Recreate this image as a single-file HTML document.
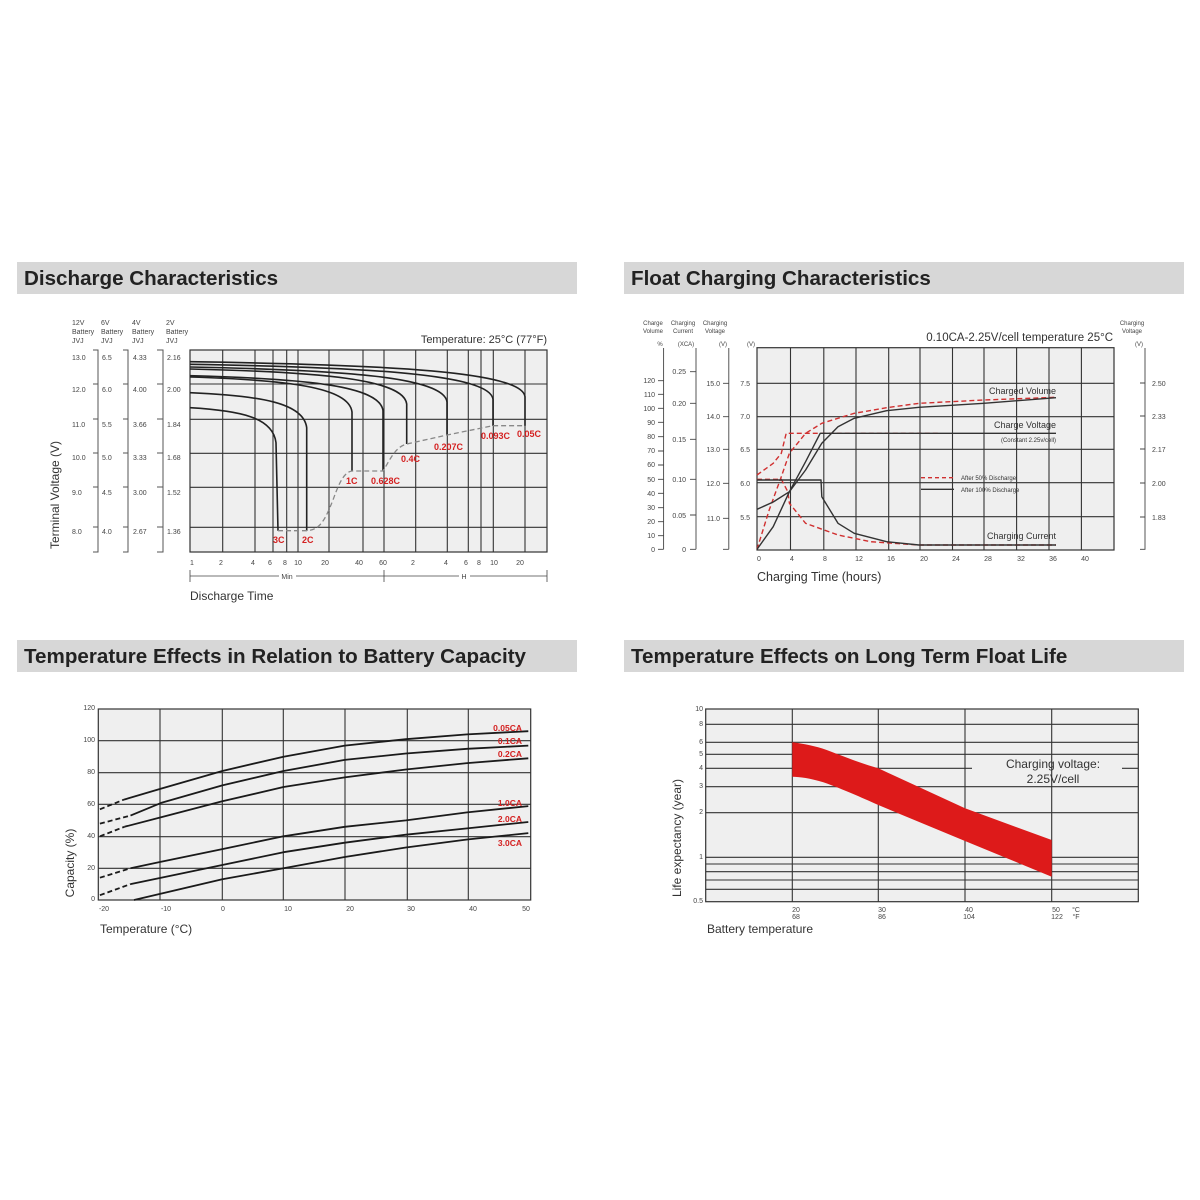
<!DOCTYPE html>
<html><head><meta charset="utf-8"><style>
html,body{margin:0;padding:0;background:#fff;}
svg{display:block;font-family:"Liberation Sans",Arial,sans-serif;}
</style></head><body>
<svg width="1200" height="1200" viewBox="0 0 1200 1200" xmlns="http://www.w3.org/2000/svg">
<rect width="1200" height="1200" fill="#fff"/>
<!-- headers -->
<g font-weight="bold" font-size="20.6" fill="#222">
<rect x="17" y="262" width="560" height="32" fill="#d7d7d7"/>
<text x="24" y="285">Discharge Characteristics</text>
<rect x="624" y="262" width="560" height="32" fill="#d7d7d7"/>
<text x="631" y="285">Float Charging Characteristics</text>
<rect x="17" y="640" width="560" height="32" fill="#d7d7d7"/>
<text x="24" y="663">Temperature Effects in Relation to Battery Capacity</text>
<rect x="624" y="640" width="560" height="32" fill="#d7d7d7"/>
<text x="631" y="663">Temperature Effects on Long Term Float Life</text>
</g>

<!-- ===== Chart 1 ===== -->
<rect x="190" y="350" width="357" height="202" fill="#efefef" stroke="#333" stroke-width="1.2"/>
<g stroke="#333" stroke-width="1.1">
<line x1="222.7" y1="350" x2="222.7" y2="552"/><line x1="255" y1="350" x2="255" y2="552"/>
<line x1="273" y1="350" x2="273" y2="552"/><line x1="286.7" y1="350" x2="286.7" y2="552"/>
<line x1="298" y1="350" x2="298" y2="552"/><line x1="329" y1="350" x2="329" y2="552"/>
<line x1="363" y1="350" x2="363" y2="552"/><line x1="384" y1="350" x2="384" y2="552"/>
<line x1="415.7" y1="350" x2="415.7" y2="552"/><line x1="447.3" y1="350" x2="447.3" y2="552"/>
<line x1="468.3" y1="350" x2="468.3" y2="552"/><line x1="481" y1="350" x2="481" y2="552"/>
<line x1="493.3" y1="350" x2="493.3" y2="552"/><line x1="525" y1="350" x2="525" y2="552"/>
<line x1="190" y1="384" x2="547" y2="384"/><line x1="190" y1="419.3" x2="547" y2="419.3"/>
<line x1="190" y1="453.3" x2="547" y2="453.3"/><line x1="190" y1="487.3" x2="547" y2="487.3"/>
<line x1="190" y1="527.3" x2="547" y2="527.3"/>
</g>
<g fill="none" stroke="#222" stroke-width="1.6">
<path d="M190,361.7 C391,364.7 522,371.7 525,396.7 L525,425.7"/>
<path d="M190,364.3 C372,367.3 490,374.3 493,399.3 L493,425.7"/>
<path d="M190,367 C344,370 444,377 447,402 L447,435"/>
<path d="M190,369 C320,372 403.7,379 406.7,404 L406.7,444"/>
<path d="M190,375.7 C306,378.7 380,385.7 383,410.7 L383,471"/>
<path d="M190,377 C287,380 349,387 352,412 L352,471"/>
<path d="M190,392.7 C260,395.7 303.7,402.7 306.7,427.7 L306.7,530.7"/>
<path d="M190,407.7 C241.6,410.7 273,417.7 276,442.7 L278,530.7"/>
</g>
<path d="M278,530.7 L306.7,530.7 C320,530 325,520 333,500 C340,480 345,472 352,471 L383,471 C390,460 395,447 406.7,444 L447,435 L493,425.7 L525,425.7" fill="none" stroke="#888" stroke-width="1.3" stroke-dasharray="5,3"/>
<g fill="#d42020" font-weight="bold" font-size="9">
<text x="273" y="543">3C</text><text x="302" y="543">2C</text><text x="346" y="484">1C</text>
<text x="371" y="484">0.628C</text><text x="401" y="462">0.4C</text><text x="434" y="450">0.207C</text>
<text x="481" y="439">0.093C</text><text x="517" y="437">0.05C</text>
</g>
<!-- left axes -->
<g font-size="7" fill="#444">
<text x="72" y="325">12V</text><text x="72" y="334">Battery</text><text x="72" y="343">JVJ</text>
<text x="101" y="325">6V</text><text x="101" y="334">Battery</text><text x="101" y="343">JVJ</text>
<text x="132" y="325">4V</text><text x="132" y="334">Battery</text><text x="132" y="343">JVJ</text>
<text x="166" y="325">2V</text><text x="166" y="334">Battery</text><text x="166" y="343">JVJ</text>
<text x="72" y="360">13.0</text><text x="72" y="392">12.0</text><text x="72" y="427">11.0</text><text x="72" y="460">10.0</text><text x="72" y="495">9.0</text><text x="72" y="534">8.0</text>
<text x="102" y="360">6.5</text><text x="102" y="392">6.0</text><text x="102" y="427">5.5</text><text x="102" y="460">5.0</text><text x="102" y="495">4.5</text><text x="102" y="534">4.0</text>
<text x="133" y="360">4.33</text><text x="133" y="392">4.00</text><text x="133" y="427">3.66</text><text x="133" y="460">3.33</text><text x="133" y="495">3.00</text><text x="133" y="534">2.67</text>
<text x="167" y="360">2.16</text><text x="167" y="392">2.00</text><text x="167" y="427">1.84</text><text x="167" y="460">1.68</text><text x="167" y="495">1.52</text><text x="167" y="534">1.36</text>
</g>
<g stroke="#555" stroke-width="1" fill="none">
<path d="M93,350 H98 V552 H93 M93,384 H98 M93,419 H98 M93,453 H98 M93,487 H98 M93,527 H98"/>
<path d="M123,350 H128 V552 H123 M123,384 H128 M123,419 H128 M123,453 H128 M123,487 H128 M123,527 H128"/>
<path d="M157,350 H163 V552 H157 M157,384 H163 M157,419 H163 M157,453 H163 M157,487 H163 M157,527 H163"/>
</g>
<text transform="translate(59,495) rotate(-90)" text-anchor="middle" font-size="12" fill="#333">Terminal Voltage (V)</text>
<text x="547" y="343" text-anchor="end" font-size="11" fill="#333">Temperature: 25°C (77°F)</text>
<g font-size="7" fill="#444" text-anchor="middle">
<text x="192" y="565">1</text><text x="221" y="565">2</text><text x="253" y="565">4</text><text x="270" y="565">6</text>
<text x="285" y="565">8</text><text x="298" y="565">10</text><text x="325" y="565">20</text><text x="359" y="565">40</text>
<text x="383" y="565">60</text><text x="413" y="565">2</text><text x="446" y="565">4</text><text x="466" y="565">6</text>
<text x="479" y="565">8</text><text x="494" y="565">10</text><text x="520" y="565">20</text>
<text x="287" y="579">Min</text><text x="464" y="579">H</text>
</g>
<g stroke="#444" stroke-width="0.8">
<line x1="190" y1="570" x2="190" y2="582"/><line x1="384" y1="570" x2="384" y2="582"/><line x1="547" y1="570" x2="547" y2="582"/>
<line x1="190" y1="576" x2="279" y2="576"/><line x1="296" y1="576" x2="384" y2="576"/>
<line x1="384" y1="576" x2="459" y2="576"/><line x1="470" y1="576" x2="547" y2="576"/>
</g>
<text x="190" y="600" font-size="12" fill="#333">Discharge Time</text>

<!-- ===== Chart 2 ===== -->
<rect x="757" y="347.7" width="357" height="202.3" fill="#efefef" stroke="#333" stroke-width="1.2"/>
<g stroke="#333" stroke-width="1.1">
<line x1="790.5" y1="347.7" x2="790.5" y2="550"/><line x1="823.8" y1="347.7" x2="823.8" y2="550"/>
<line x1="856" y1="347.7" x2="856" y2="550"/><line x1="888.7" y1="347.7" x2="888.7" y2="550"/>
<line x1="920" y1="347.7" x2="920" y2="550"/><line x1="952.5" y1="347.7" x2="952.5" y2="550"/>
<line x1="984" y1="347.7" x2="984" y2="550"/><line x1="1016.6" y1="347.7" x2="1016.6" y2="550"/>
<line x1="1049" y1="347.7" x2="1049" y2="550"/><line x1="1081.4" y1="347.7" x2="1081.4" y2="550"/>
<line x1="757" y1="383.3" x2="1114" y2="383.3"/><line x1="757" y1="416.7" x2="1114" y2="416.7"/>
<line x1="757" y1="449.3" x2="1114" y2="449.3"/><line x1="757" y1="482.7" x2="1114" y2="482.7"/>
<line x1="757" y1="516.7" x2="1114" y2="516.7"/>
</g>
<g fill="none" stroke-width="1.4" stroke-linejoin="round">
<polyline stroke="#d03030" stroke-dasharray="5,3" points="757,475 773.2,463.3 781.3,453.3 786.2,433.3 939.3,433.3"/>
<polyline stroke="#d03030" stroke-dasharray="5,3" points="757,549.3 769.2,510 781.3,476.7 789.4,453.3 805.6,433.3 821.8,423.3 854.2,413.3 886.6,407.7 919,403.3 983.8,400 1056,397.3"/>
<polyline stroke="#d03030" stroke-dasharray="5,3" points="757,479.3 781.3,479.3 787.8,491.7 789.4,503.3 805.6,523.3 838,535 870.4,541.7 919,545 1056,545"/>
<polyline stroke="#333" points="757,509.3 773.2,502 789.4,491.7 805.6,470 821.8,443.3 838,426.7 854.2,418.3 886.6,410.7 919,407.3 983.8,403.3 1056,397.7"/>
<polyline stroke="#333" points="757,549.3 773.2,526.7 789.4,491.7 805.6,461.7 820.2,433.3 1056,433.3"/>
<polyline stroke="#333" points="757,480 821,480 821.8,496.7 838,523.3 854.2,533.3 886.6,541.7 919,545 1056,545"/>
<line x1="921" y1="477.7" x2="954" y2="477.7" stroke="#d03030" stroke-dasharray="4,3"/>
<line x1="921" y1="489.3" x2="954" y2="489.3" stroke="#333"/>
</g>
<g fill="#333" text-anchor="end">
<text x="1056" y="394" font-size="9">Charged Volume</text>
<text x="1056" y="428" font-size="9">Charge Voltage</text>
<text x="1056" y="442" font-size="6">(Constant 2.25v/cell)</text>
<text x="1056" y="539" font-size="9">Charging Current</text>
</g>
<text x="961" y="480" font-size="6" fill="#333">After  50% Discharge</text>
<text x="961" y="492" font-size="6" fill="#333">After 100% Discharge</text>
<text x="1113" y="341" text-anchor="end" font-size="11.5" fill="#333">0.10CA-2.25V/cell  temperature 25°C</text>
<g font-size="6" fill="#444" text-anchor="middle">
<text x="653" y="325">Charge</text><text x="653" y="333">Volume</text><text x="660" y="346">%</text>
<text x="683" y="325">Charging</text><text x="683" y="333">Current</text><text x="686" y="346">(XCA)</text>
<text x="715" y="325">Charging</text><text x="715" y="333">Voltage</text><text x="723" y="346">(V)</text>
<text x="751" y="346">(V)</text>
<text x="1132" y="325">Charging</text><text x="1132" y="333">Voltage</text><text x="1139" y="346">(V)</text>
</g>
<g stroke="#444" stroke-width="0.9" fill="none">
<path d="M663.6,348 V549.3 M658,380.7 H663.6 M658,394.3 H663.6 M658,408.3 H663.6 M658,422.3 H663.6 M658,436.7 H663.6 M658,451 H663.6 M658,465 H663.6 M658,479.3 H663.6 M658,493.3 H663.6 M658,507.7 H663.6 M658,521.7 H663.6 M658,535.7 H663.6 M658,549.3 H663.6"/>
<path d="M696,348 V549.3 M690,371.7 H696 M690,403.3 H696 M690,439.3 H696 M690,479.3 H696 M690,515 H696 M690,549.3 H696"/>
<path d="M728.8,348 V549.3 M723,383.3 H728.8 M723,416.7 H728.8 M723,449.3 H728.8 M723,483.3 H728.8 M723,518.3 H728.8 M723,549.3 H728.8"/>
<path d="M1145,348 V549.3 H1140 M1140,383 H1145 M1140,416 H1145 M1140,449 H1145 M1140,483 H1145 M1140,517 H1145"/>
</g>
<g font-size="7" fill="#444" text-anchor="end">
<text x="655" y="383">120</text><text x="655" y="397">110</text><text x="655" y="411">100</text><text x="655" y="425">90</text>
<text x="655" y="439">80</text><text x="655" y="453">70</text><text x="655" y="467">60</text><text x="655" y="482">50</text>
<text x="655" y="496">40</text><text x="655" y="510">30</text><text x="655" y="524">20</text><text x="655" y="538">10</text><text x="655" y="552">0</text>
<text x="686" y="374">0.25</text><text x="686" y="406">0.20</text><text x="686" y="442">0.15</text><text x="686" y="482">0.10</text><text x="686" y="518">0.05</text><text x="686" y="552">0</text>
<text x="720" y="386">15.0</text><text x="720" y="419">14.0</text><text x="720" y="452">13.0</text><text x="720" y="486">12.0</text><text x="720" y="521">11.0</text>
<text x="750" y="386">7.5</text><text x="750" y="419">7.0</text><text x="750" y="452">6.5</text><text x="750" y="486">6.0</text><text x="750" y="520">5.5</text>
</g>
<g font-size="7" fill="#444">
<text x="1152" y="386">2.50</text><text x="1152" y="419">2.33</text><text x="1152" y="452">2.17</text><text x="1152" y="486">2.00</text><text x="1152" y="520">1.83</text>
</g>
<g font-size="7" fill="#444" text-anchor="middle">
<text x="759" y="561">0</text><text x="792" y="561">4</text><text x="825" y="561">8</text><text x="859" y="561">12</text>
<text x="891" y="561">16</text><text x="924" y="561">20</text><text x="956" y="561">24</text><text x="988" y="561">28</text>
<text x="1021" y="561">32</text><text x="1053" y="561">36</text><text x="1085" y="561">40</text>
</g>
<text x="757" y="581" font-size="12.5" fill="#333">Charging Time (hours)</text>

<!-- ===== Chart 3 ===== -->
<rect x="98.3" y="709" width="432.4" height="191" fill="#efefef" stroke="#333" stroke-width="1.2"/>
<g stroke="#333" stroke-width="1.1">
<line x1="160" y1="709" x2="160" y2="900"/><line x1="222.3" y1="709" x2="222.3" y2="900"/>
<line x1="283.3" y1="709" x2="283.3" y2="900"/><line x1="345" y1="709" x2="345" y2="900"/>
<line x1="407.3" y1="709" x2="407.3" y2="900"/><line x1="468.3" y1="709" x2="468.3" y2="900"/>
<line x1="98.3" y1="740.7" x2="530.7" y2="740.7"/><line x1="98.3" y1="772.7" x2="530.7" y2="772.7"/>
<line x1="98.3" y1="804.3" x2="530.7" y2="804.3"/><line x1="98.3" y1="836.7" x2="530.7" y2="836.7"/>
<line x1="98.3" y1="868.3" x2="530.7" y2="868.3"/>
</g>
<g fill="none" stroke="#1a1a1a" stroke-width="1.8" stroke-linejoin="round">
<polyline stroke-dasharray="5,3" points="99.9,809.3 124,799.6"/>
<polyline points="124,799.6 161.1,788.6 222.3,771 283.5,756.7 344.7,745.6 405.9,739.2 467.1,734.4 528.3,731.2"/>
<polyline stroke-dasharray="5,3" points="99.9,823.6 130.5,815.6"/>
<polyline points="130.5,815.6 161.1,802.9 222.3,785.4 283.5,771 344.7,759.9 405.9,753.5 467.1,748.8 528.3,745.6"/>
<polyline stroke-dasharray="5,3" points="99.9,836.3 124.4,826.8"/>
<polyline points="124.4,826.8 161.1,817.2 222.3,801.3 283.5,787 344.7,777.4 405.9,769.5 467.1,763.1 528.3,758.3"/>
<polyline stroke-dasharray="5,3" points="99.9,877.7 130.5,868.2"/>
<polyline points="130.5,868.2 161.1,861.8 222.3,849.1 283.5,836.3 344.7,826.8 405.9,820.4 467.1,812.4 528.3,806.1"/>
<polyline stroke-dasharray="5,3" points="99.9,895.2 130.5,884.1"/>
<polyline points="130.5,884.1 161.1,877.7 222.3,865 283.5,852.2 344.7,842.7 405.9,834.7 467.1,828.4 528.3,822"/>
<polyline points="134,900 161.1,893.6 222.3,879.3 283.5,868.2 344.7,857 405.9,847.5 467.1,839.5 528.3,833.1"/>
</g>
<g fill="#d42020" font-weight="bold" font-size="8.5" text-anchor="end">
<text x="522" y="731">0.05CA</text><text x="522" y="744">0.1CA</text><text x="522" y="757">0.2CA</text>
<text x="522" y="806">1.0CA</text><text x="522" y="822">2.0CA</text><text x="522" y="846">3.0CA</text>
</g>
<g font-size="7" fill="#444" text-anchor="end">
<text x="95" y="710">120</text><text x="95" y="742">100</text><text x="95" y="774">80</text><text x="95" y="806">60</text>
<text x="95" y="838">40</text><text x="95" y="870">20</text><text x="95" y="901">0</text>
</g>
<g font-size="7" fill="#444" text-anchor="middle">
<text x="104" y="911">-20</text><text x="166" y="911">-10</text><text x="223" y="911">0</text><text x="288" y="911">10</text>
<text x="350" y="911">20</text><text x="411" y="911">30</text><text x="473" y="911">40</text><text x="526" y="911">50</text>
</g>
<text transform="translate(74,863) rotate(-90)" text-anchor="middle" font-size="12" fill="#333">Capacity (%)</text>
<text x="100" y="933" font-size="12" fill="#333">Temperature (°C)</text>

<!-- ===== Chart 4 ===== -->
<rect x="705.7" y="709" width="432.6" height="192.7" fill="#efefef" stroke="#333" stroke-width="1.2"/>
<g stroke="#333" stroke-width="1.1">
<line x1="792.3" y1="709" x2="792.3" y2="901.7"/><line x1="878.3" y1="709" x2="878.3" y2="901.7"/>
<line x1="965" y1="709" x2="965" y2="901.7"/><line x1="1051.7" y1="709" x2="1051.7" y2="901.7"/>
<line x1="705.7" y1="724.3" x2="1138.3" y2="724.3"/><line x1="705.7" y1="742.3" x2="1138.3" y2="742.3"/>
<line x1="705.7" y1="754.3" x2="1138.3" y2="754.3"/>
<line x1="705.7" y1="768.3" x2="972" y2="768.3"/><line x1="1122" y1="768.3" x2="1138.3" y2="768.3"/>
<line x1="705.7" y1="786.7" x2="1138.3" y2="786.7"/><line x1="705.7" y1="812.7" x2="1138.3" y2="812.7"/>
<line x1="705.7" y1="857.3" x2="1138.3" y2="857.3"/><line x1="705.7" y1="864" x2="1138.3" y2="864"/>
<line x1="705.7" y1="871.7" x2="1138.3" y2="871.7"/><line x1="705.7" y1="880" x2="1138.3" y2="880"/>
<line x1="705.7" y1="889.3" x2="1138.3" y2="889.3"/>
</g>
<path d="M792.3,742.3 C805,744 815,746 826.7,750 C845,757 860,763 878.3,768.3 L965,808.3 L1051.7,840 L1051.7,876.7 L965,841 L878.3,805 C860,797 845,790 823.3,782.3 C810,778 800,777 792.3,776.7 Z" fill="#dd1a1a"/>
<text x="1053" y="768" text-anchor="middle" font-size="12" fill="#333">Charging voltage:</text>
<text x="1053" y="783" text-anchor="middle" font-size="12" fill="#333">2.25V/cell</text>
<g font-size="7" fill="#444" text-anchor="end">
<text x="703" y="711">10</text><text x="703" y="726">8</text><text x="703" y="744">6</text><text x="703" y="756">5</text>
<text x="703" y="770">4</text><text x="703" y="788">3</text><text x="703" y="814">2</text><text x="703" y="859">1</text><text x="703" y="903">0.5</text>
</g>
<g font-size="7" fill="#444" text-anchor="middle">
<text x="796" y="912">20</text><text x="796" y="919">68</text>
<text x="882" y="912">30</text><text x="882" y="919">86</text>
<text x="969" y="912">40</text><text x="969" y="919">104</text>
<text x="1056" y="912">50</text><text x="1057" y="919">122</text>
<text x="1076" y="912">°C</text><text x="1076" y="919">°F</text>
</g>
<text transform="translate(681,838) rotate(-90)" text-anchor="middle" font-size="12" fill="#333">Life expectancy (year)</text>
<text x="707" y="933" font-size="12" fill="#333">Battery temperature</text>
</svg>
</body></html>
